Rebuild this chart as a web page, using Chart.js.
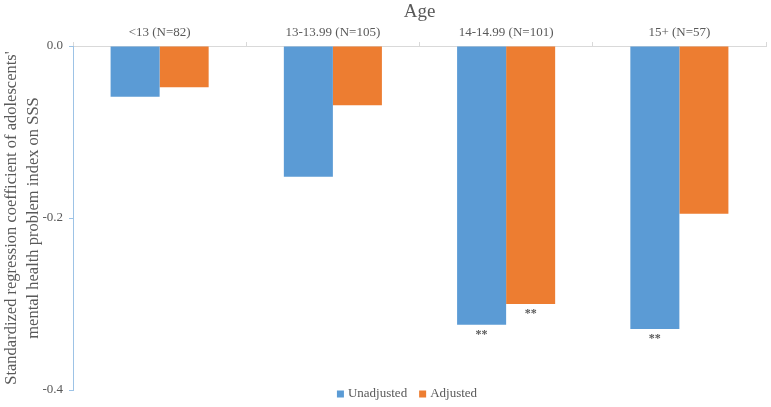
<!DOCTYPE html>
<html>
<head>
<meta charset="utf-8">
<script src="https://cdn.jsdelivr.net/npm/chart.js@4"></script>
<style>
  html, body { margin: 0; padding: 0; background: #fff; }
  #wrap { width: 771px; height: 407px; }
</style>
</head>
<body>
<div id="wrap"><canvas id="ageChart"></canvas></div>
<script>
const categories = ['<13 (N=82)', '13-13.99 (N=105)', '14-14.99 (N=101)', '15+ (N=57)'];
const unadjusted = [-0.059, -0.152, -0.324, -0.329];
const adjusted = [-0.048, -0.069, -0.300, -0.195];
const sigUnadjusted = ['', '', '**', '**'];
const sigAdjusted = ['', '', '**', ''];
const yTicks = [0, -0.2, -0.4];

const textColor = '#595959';
const serif = "'Liberation Serif', 'Times New Roman', serif";

// draws the ** marks under the bars
const sigPlugin = {
    id: 'sigMarks',
    afterDatasetsDraw(chart) {
        const ctx = chart.ctx;
        const marks = [sigUnadjusted, sigAdjusted];
        ctx.save();
        ctx.fillStyle = textColor;
        ctx.font = 'bold 12px ' + serif;
        ctx.textAlign = 'center';
        ctx.textBaseline = 'top';
        marks.forEach((list, di) => {
            const meta = chart.getDatasetMeta(di);
            meta.data.forEach((bar, i) => {
                if (list[i]) ctx.fillText(list[i], bar.x, bar.y + 4);
            });
        });
        ctx.restore();
    }
};

// legend sits over the bottom of the plot like in the original
const legendPlugin = {
    id: 'bottomLegend',
    afterDraw(chart) {
        const ctx = chart.ctx;
        ctx.save();
        ctx.font = '13px ' + serif;
        ctx.textBaseline = 'middle';
        const items = chart.data.datasets.map(ds => ({ label: ds.label, color: ds.backgroundColor }));
        const box = 7, gap = 4, between = 12;
        let total = 0;
        items.forEach((it, i) => {
            total += box + gap + ctx.measureText(it.label).width + (i < items.length - 1 ? between : 0);
        });
        let x = 407 - total / 2;
        const y = 394;
        items.forEach(it => {
            ctx.fillStyle = it.color;
            ctx.fillRect(x, y - box / 2, box, box);
            x += box + gap;
            ctx.fillStyle = textColor;
            ctx.fillText(it.label, x, y);
            x += ctx.measureText(it.label).width + between;
        });
        ctx.restore();
    }
};

new Chart(document.getElementById('ageChart'), {
    type: 'bar',
    data: {
        labels: categories,
        datasets: [{
            label: 'Unadjusted',
            data: unadjusted,
            backgroundColor: '#5B9BD5'
        }, {
            label: 'Adjusted',
            data: adjusted,
            backgroundColor: '#ED7D31'
        }]
    },
    options: {
        responsive: true,
        maintainAspectRatio: false,
        animation: false,
        categoryPercentage: 0.566,
        barPercentage: 1,
        layout: { padding: { left: 0, right: 5, top: 0, bottom: 17 } },
        plugins: {
            legend: { display: false },
            tooltip: { enabled: false }
        },
        scales: {
            x: {
                position: 'top',
                offset: true,
                grid: {
                    offset: true,
                    drawOnChartArea: false,
                    tickLength: 4,
                    color: '#d9d9d9'
                },
                border: { color: '#d9d9d9' },
                ticks: {
                    color: textColor,
                    font: { family: serif, size: 13 },
                    padding: 2,
                    maxRotation: 0
                },
                title: {
                    display: true,
                    text: 'Age',
                    color: textColor,
                    font: { family: serif, size: 19 },
                    padding: { top: 1, bottom: 0 }
                },
                afterFit(scale) { scale.height = 46; }
            },
            y: {
                min: -0.4,
                max: 0,
                afterBuildTicks(scale) { scale.ticks = yTicks.map(v => ({ value: v })); },
                grid: {
                    drawOnChartArea: false,
                    tickLength: 4,
                    color: '#9dc3e6'
                },
                border: { color: '#9dc3e6' },
                ticks: {
                    color: textColor,
                    font: { family: serif, size: 13 },
                    padding: 6,
                    callback: v => v.toFixed(1)
                },
                title: {
                    display: true,
                    text: ["Standardized regression coefficient of adolescents'", 'mental health problem index on SSS'],
                    color: textColor,
                    font: { family: serif, size: 16.5, lineHeight: 1.3 },
                    padding: { top: 1, bottom: 0 }
                },
                afterFit(scale) { scale.width = 73; }
            }
        }
    },
    plugins: [sigPlugin, legendPlugin]
});
</script>
</body>
</html>
